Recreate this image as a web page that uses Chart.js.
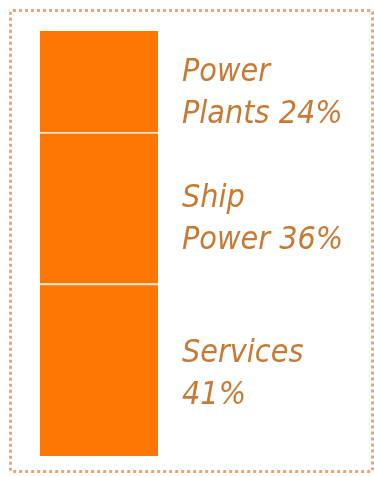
<!DOCTYPE html>
<html>
<head>
<meta charset="utf-8">
<script src="https://cdn.jsdelivr.net/npm/chart.js@4"></script>
<style>
  html, body { margin: 0; padding: 0; background: #fff; }
  #wrap { position: relative; width: 374px; height: 477px; }
  #frame {
    position: absolute; left: 9px; top: 9px; width: 359px; height: 458px;
    border: 3px dotted #f3a26a; border-radius: 4px; pointer-events: none;
  }
</style>
</head>
<body>
<div id="wrap">
  <canvas id="chartShare" width="374" height="477"></canvas>
  <div id="frame"></div>
</div>
<script>
// stacked bottom -> top
var categories = ['Share'];
var segmentNames = ['Services', 'Ship Power', 'Power Plants'];
var segmentLines = [['Services', '41%'], ['Ship', 'Power 36%'], ['Power', 'Plants 24%']];
var segmentValues = [41, 36, 24];

var barColor = '#fd7603';
var textColor = '#c67a34';

var datasets = [];
for (var i = 0; i < segmentNames.length; i++) {
    datasets.push({
        label: segmentNames[i],
        data: [segmentValues[i]],
        backgroundColor: barColor,
        borderColor: '#fde2c8',
        borderWidth: i == segmentNames.length - 1 ? 0 : {top: 2, bottom: 0, left: 0, right: 0},
        borderSkipped: false,
        barPercentage: 1,
        categoryPercentage: 1
    });
}

var labelPlugin = {
    id: 'sideLabels',
    afterDatasetsDraw: function(chart) {
        var ctx = chart.ctx;
        ctx.save();
        ctx.fillStyle = textColor;
        ctx.font = 'italic 32px "DejaVu Sans Condensed"';
        ctx.textBaseline = 'middle';
        chart.data.datasets.forEach(function(ds, i) {
            var bar = chart.getDatasetMeta(i).data[0];
            var cy = (bar.y + bar.base) / 2 + (i == 0 ? 5 : 12);
            var x = bar.x + bar.width / 2 + 24;
            var lines = segmentLines[i];
            ctx.fillText(lines[0], x, cy - 21);
            ctx.fillText(lines[1], x, cy + 21);
        });
        ctx.restore();
    }
};

var ctx = document.getElementById('chartShare').getContext('2d');
var myChart = new Chart(ctx, {
    type: 'bar',
    data: {
        labels: categories,
        datasets: datasets
    },
    options: {
        responsive: false,
        animation: false,
        layout: {
            padding: {left: 40, right: 216, top: 31, bottom: 21}
        },
        scales: {
            x: {stacked: true, display: false},
            y: {stacked: true, display: false, min: 0, max: 101}
        },
        plugins: {
            legend: {display: false},
            tooltip: {enabled: false}
        }
    },
    plugins: [labelPlugin]
});
</script>
</body>
</html>
